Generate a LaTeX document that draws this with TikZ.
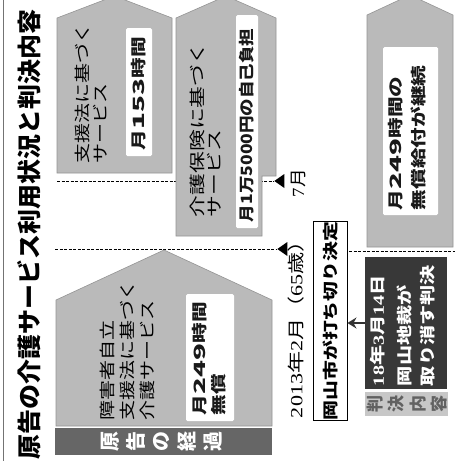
\documentclass[tikz,border=0pt]{standalone}
\usepackage{fontspec}
\newfontfamily\jp{Noto Sans CJK JP}
\newfontfamily\ser{Liberation Serif}
\usetikzlibrary{arrows.meta,shapes.geometric}
\newcommand{\hs}[2]{\scalebox{#1}[1]{#2}}
\newcommand{\dg}[1]{\scalebox{1.35}[1]{#1}}
\tikzset{
  rt/.style={rotate=90, anchor=west, inner sep=0pt, outer sep=0pt},
  body/.style={rt, font=\jp\fontsize{16}{16}\selectfont, text=black},
  boxt/.style={rt, font=\jp\bfseries\fontsize{15.5}{15.5}\selectfont, text=black!90},
  titlet/.style={rt, font=\jp\bfseries\fontsize{24}{24}\selectfont},
  house/.style={fill=black!27, draw=black!42, line width=0.6pt},
  wbox/.style={fill=white, draw=none, rounded corners=1.5pt},
  tline/.style={line width=0.7pt, dash pattern=on 3pt off 1.5pt},
  marker/.style={isosceles triangle, isosceles triangle apex angle=70, fill=black,
    inner sep=0pt, minimum height=10pt, shape border rotate=180, anchor=apex},
  vchar/.style={rotate=90, inner sep=0pt, text=white, font=\jp\bfseries\fontsize{20}{20}\selectfont},
  jchar/.style={rotate=90, inner sep=0pt, text=black!62, font=\jp\bfseries\fontsize{17}{17}\selectfont},
  rtext/.style={rt, text=white, font=\jp\bfseries\fontsize{15.5}{15.5}\selectfont},
}
\begin{document}
\begin{tikzpicture}[x=1pt,y=-1pt]
\useasboundingbox[fill=white] (0,0) rectangle (455,461);
% border line
\draw[black!55, line width=0.8pt] (3,0) -- (3,461);
% title
\node[titlet] (title) at (29,459) {\hs{1.04}{原告の介護サービス利用状況と判決内容}};

% timeline markers and dashed lines
\node[marker] (m7) at (274,181) {};
\node[marker] (m2) at (277,249) {};
\coordinate (jul0) at (57,181);
\coordinate (feb0) at (55,249);
\coordinate (feb1) at (349,251);
\coordinate (feb2) at (455,251);
\draw[tline] (jul0) -- (m7.apex);
\draw[tline] (feb0) -- (m2.apex);
\draw[tline] (feb1) -- (feb2);

% house shapes
\path[house] (56,426) -- (56,300) -- (164,250) -- (272,300) -- (272,426) -- cycle;
\path[house] (57,173) -- (57,18) -- (114.5,-4) -- (172,18) -- (172,173) -- cycle;
\path[house] (176,236) -- (176,18) -- (226,-4) -- (276,18) -- (276,176) -- (262,176) -- (262,236) -- cycle;
\path[house] (367,247) -- (367,15) -- (410,-5) -- (453,15) -- (453,247) -- cycle;

% white boxes
\path[wbox] (186,294) rectangle (234,421);
\path[wbox] (126,28) rectangle (152,156);
\path[wbox] (236,15) rectangle (258,228);
\path[wbox] (383,47) rectangle (438,215);

% texts in bottom house
\node[body] (a1) at (107,420) {\hs{1.25}{障害者自立}};
\node[body] (a2) at (127,420) {\hs{1.25}{支援法に基づく}};
\node[body] (a3) at (147,420) {\hs{1.25}{介護サービス}};
\node[boxt] (a4) at (200,415) {\hs{1.33}{月\dg{249}時間}};
\node[boxt] (a5) at (219,415) {\hs{1.33}{無償}};

% top-left house
\node[body] (b1) at (82,163) {\hs{1.25}{支援法に基づく}};
\node[body] (b2) at (100,163) {\hs{1.25}{サービス}};
\node[boxt] (b3) at (139,150) {\hs{1.33}{月\dg{153}時間}};

% middle house
\node[body] (c1) at (197,217) {\hs{1.36}{介護保険に基づく}};
\node[body] (c2) at (214,217) {\hs{1.36}{サービス}};
\node[boxt] (c3) at (247,222) {\hs{1.13}{月1万5000円の自己負担}};

% right house
\node[boxt] (d1) at (396,210) {\hs{1.33}{月\dg{249}時間の}};
\node[boxt] (d2) at (418,210) {\hs{1.33}{無償給付が継続}};

% dates
\node[rt, font=\jp\fontsize{17}{17}\selectfont] (jul) at (298,197) {\hs{1.1}{{\ser 7}月}};
\node[rt, font=\jp\fontsize{17}{17}\selectfont] (feb) at (296,418) {\hs{1.3}{{\ser 2013}年{\ser 2}月（{\ser 65}歳）}};

% Okayama city decision box
\node[draw, line width=0.9pt, fill=white, rotate=90, minimum width=198pt, minimum height=34pt,
  inner sep=0pt, font=\jp\bfseries\fontsize{15.5}{15.5}\selectfont] (okayama) at (330,321)
  {\hs{1.28}{岡山市が打ち切り決定}};

% ruling box
\node[fill=black!78, minimum width=82pt, minimum height=132pt, inner sep=0pt] (ruling) at (406,323) {};
\node[rtext] (r1) at (378,386)
  {\hs{1.3}{{\ser\bfseries 18}年{\ser\bfseries 3}月{\ser\bfseries 14}日}};
\node[rtext] (r2) at (404,386) {\hs{1.3}{岡山地裁が}};
\node[rtext] (r3) at (428,386) {\hs{1.3}{取り消す判決}};
\draw[black!80, line width=1.8pt, -{Stealth[length=9pt,width=11pt]}] (ruling.west) -- (ruling.west -| okayama.south);

% label bands
\path[fill=black!60] (55,428) rectangle (272,455);
\node[vchar] (g1) at (110,441.5) {原};
\node[vchar] (g2) at (135.75,441.5) {告};
\node[vchar] (g3) at (161.5,441.5) {の};
\node[vchar] (g4) at (187.25,441.5) {経};
\node[vchar] (g5) at (213,441.5) {過};
\path[fill=black!22] (365,392) rectangle (448,416);
\node[jchar] (h1) at (375,404) {判};
\node[jchar] (h2) at (396.5,404) {決};
\node[jchar] (h3) at (418,404) {内};
\node[jchar] (h4) at (439.5,404) {容};
\end{tikzpicture}
\end{document}
